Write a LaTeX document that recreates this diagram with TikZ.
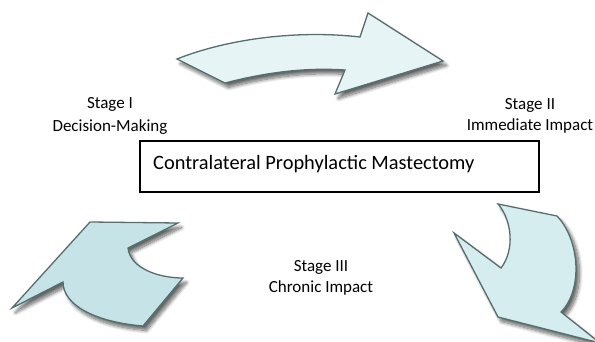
\documentclass[tikz,border=0pt]{standalone}
\usepackage{fontspec}
\setmainfont{Carlito}
\usetikzlibrary{shadows.blur}
\definecolor{arrowline}{HTML}{566E70}
\definecolor{fillA}{HTML}{E7F4F6}
\definecolor{fillB}{HTML}{D6EDEF}
\definecolor{fillC}{HTML}{C6E4E7}
\tikzset{
  bigarrow/.style={draw=arrowline, line width=1.3pt, line join=miter,
    blur shadow={shadow xshift=3.5pt, shadow yshift=-4.5pt, shadow blur radius=3.5pt, shadow blur steps=10, shadow opacity=60}},
  stagelabel/.style={font=\fontsize{17}{21}\selectfont, anchor=base, inner sep=0pt},
  mainbox/.style={draw=black, line width=1.3pt},
}
\begin{document}
\begin{tikzpicture}[x=1pt,y=-1pt]
\useasboundingbox (0,0) rectangle (595,342);
% top arrow
\path[bigarrow, fill=fillA] (177,59) .. controls (230,38) and (300,30) .. (360,37)
  -- (368,13) -- (443,61) -- (335,94) -- (345,70)
  .. controls (300,67) and (260,74) .. (225,83) -- cycle;
% right arrow
\path[bigarrow, fill=fillB] (498,204) -- (557,216)
  .. controls (580,240) and (583,290) .. (561,312)
  -- (600,343) -- (498,317) -- (454,233) -- (501,268)
  .. controls (515,250) and (512,220) .. (498,204) -- cycle;
% left arrow
\path[bigarrow, fill=fillC] (12,308) -- (90,222) -- (178,223) -- (128,248)
  .. controls (130,268) and (158,278) .. (183,278)
  -- (143,326) .. controls (95,322) and (63,305) .. (63,282) -- cycle;
% central box
\node[mainbox, minimum width=399pt, minimum height=51pt, inner sep=0pt] (box) at (339.5,166.5) {};
\node[font=\fontsize{20.4}{24}\selectfont, anchor=base west, inner sep=0pt] (maintext) at (153,170) {Contralateral Prophylactic Mastectomy};
% stage labels
\node[stagelabel] (s1a) at (110,109) {Stage I};
\node[stagelabel] (s1b) at (110,131.5) {Decision-Making};
\node[stagelabel] (s2a) at (530,110) {Stage II};
\node[stagelabel] (s2b) at (530,131) {Immediate Impact};
\node[stagelabel] (s3a) at (321,271.5) {Stage III};
\node[stagelabel] (s3b) at (321,292.5) {Chronic Impact};
\end{tikzpicture}
\end{document}
